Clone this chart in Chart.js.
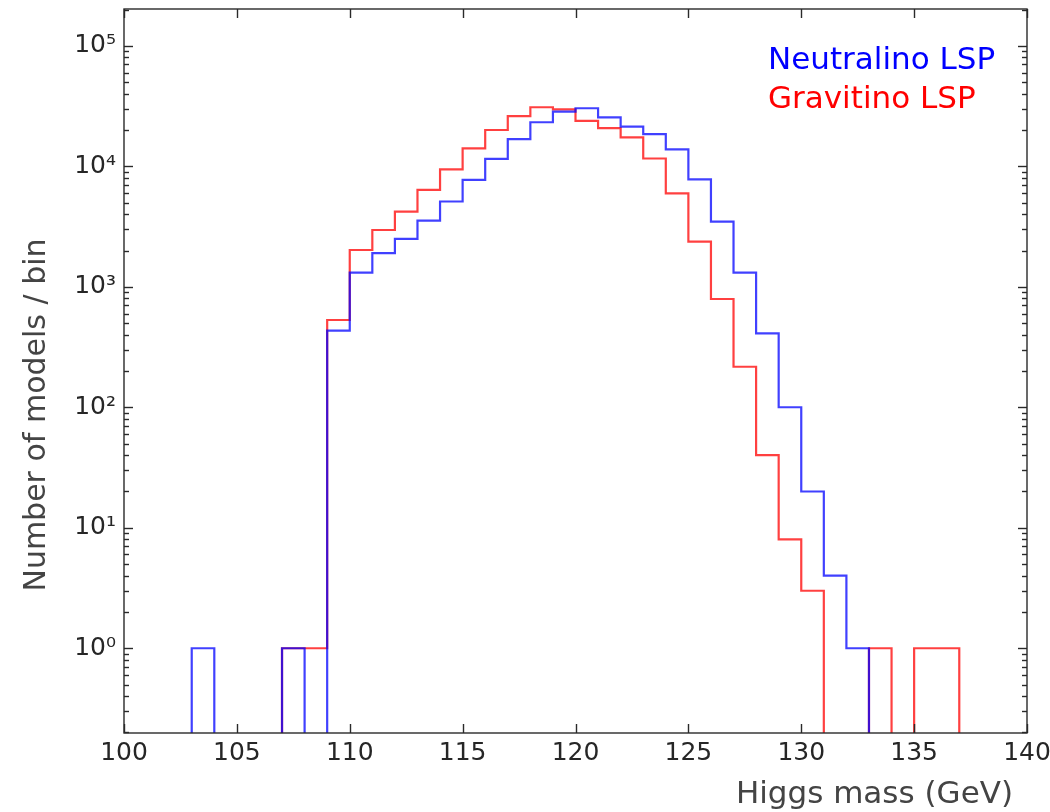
<!DOCTYPE html>
<html>
<head>
<meta charset="utf-8">
<script src="https://cdn.jsdelivr.net/npm/chart.js@4.4.1/dist/chart.umd.min.js"></script>
<style>
  html, body { margin: 0; padding: 0; background: #fff; }
  #wrap { width: 1050px; height: 812px; }
</style>
</head>
<body>
<div id="wrap"><canvas id="chart" width="1050" height="812"></canvas></div>
<script>
// bin edges in GeV (1 GeV bins, 100..140)
const binEdges = [100, 101, 102, 103, 104, 105, 106, 107, 108, 109,
                  110, 111, 112, 113, 114, 115, 116, 117, 118, 119,
                  120, 121, 122, 123, 124, 125, 126, 127, 128, 129,
                  130, 131, 132, 133, 134, 135, 136, 137, 138, 139, 140];

// models per bin, one value per bin
const neutralinoCounts = [0, 0, 0, 1, 0, 0, 0, 1, 0, 432,
                          1310, 1900, 2500, 3540, 5100, 7700, 11500, 16800, 23200, 28400,
                          30300, 25500, 21300, 18500, 13800, 7800, 3470, 1310, 411, 100,
                          20, 4, 1, 0, 0, 0, 0, 0, 0, 0];
const gravitinoCounts = [0, 0, 0, 0, 0, 0, 0, 1, 1, 530,
                         2020, 2960, 4200, 6360, 9440, 14100, 20000, 26100, 30900, 29700,
                         23800, 20700, 17400, 11600, 5970, 2370, 792, 217, 40, 8,
                         3, 0, 0, 1, 0, 1, 1, 0, 0, 0];

const seriesNames = ["Neutralino LSP", "Gravitino LSP"];
const xTickValues = [100, 105, 110, 115, 120, 125, 130, 135, 140];
const yTickValues = [1, 10, 100, 1000, 10000, 100000];
const yTickLabels = ["10⁰", "10¹", "10²", "10³", "10⁴", "10⁵"];
const xTitle = "Higgs mass (GeV)";
const yTitle = "Number of models / bin";

const FONT = "'DejaVu Sans', sans-serif";

// step outline: each bin's count sits at its left edge, last edge closes it.
// empty bins go below the axis so the line drops out of view like matplotlib
function stepPoints(counts) {
    const pts = counts.map((c, i) => ({ x: binEdges[i], y: c > 0 ? c : 1e-3 }));
    pts.push({ x: binEdges[binEdges.length - 1], y: 1e-3 });
    return pts;
}

// frame, inward ticks, axis titles and the text legend
const decorations = {
    id: "decorations",
    afterDraw(chart) {
        const { ctx, chartArea: a, scales: { x, y } } = chart;
        ctx.save();
        ctx.strokeStyle = "#2a2a2a";
        ctx.lineWidth = 1.4;
        const seg = (x1, y1, x2, y2) => {
            ctx.beginPath(); ctx.moveTo(x1, y1); ctx.lineTo(x2, y2); ctx.stroke();
        };
        y.ticks.forEach(t => {
            const py = Math.round(y.getPixelForValue(t.value)) + 0.5;
            const len = yTickValues.includes(t.value) ? 9 : 5;
            seg(a.left, py, a.left + len, py);
            seg(a.right, py, a.right - len, py);
        });
        x.ticks.forEach(t => {
            const px = Math.round(x.getPixelForValue(t.value)) + 0.5;
            seg(px, a.bottom, px, a.bottom - 9);
            seg(px, a.top, px, a.top + 9);
        });
        ctx.strokeRect(a.left, a.top, a.right - a.left, a.bottom - a.top);

        ctx.fillStyle = "#444";
        ctx.font = "31px " + FONT;
        ctx.textAlign = "right";
        ctx.textBaseline = "alphabetic";
        ctx.fillText(xTitle, 1013, 803);

        ctx.save();
        ctx.font = "30px " + FONT;
        ctx.translate(45, 415);
        ctx.rotate(-Math.PI / 2);
        ctx.textAlign = "center";
        ctx.fillText(yTitle, 0, 0);
        ctx.restore();

        ctx.textAlign = "left";
        ctx.fillStyle = "#0000ff";
        ctx.fillText(seriesNames[0], 768, 69);
        ctx.fillStyle = "#ff0000";
        ctx.fillText(seriesNames[1], 768, 108);
        ctx.restore();
    }
};

new Chart(document.getElementById("chart"), {
    type: "line",
    data: {
        datasets: [
            {
                label: seriesNames[0],
                data: stepPoints(neutralinoCounts),
                borderColor: "rgba(0, 0, 255, 0.75)",
                borderWidth: 2.2,
                stepped: "before",
                pointRadius: 0,
                fill: false,
                clip: 0
            },
            {
                label: seriesNames[1],
                data: stepPoints(gravitinoCounts),
                borderColor: "rgba(255, 0, 0, 0.75)",
                borderWidth: 2.2,
                stepped: "before",
                pointRadius: 0,
                fill: false,
                clip: 0
            }
        ]
    },
    options: {
        responsive: false,
        animation: false,
        layout: { padding: { left: 0, top: 9, right: 23, bottom: 0 } },
        plugins: { legend: { display: false }, tooltip: { enabled: false } },
        scales: {
            x: {
                type: "linear",
                min: 100,
                max: 140,
                grid: { display: false, drawTicks: false },
                border: { display: false },
                afterBuildTicks: s => { s.ticks = xTickValues.map(v => ({ value: v })); },
                afterFit: s => { s.height = 79; s.paddingLeft = 0; s.paddingRight = 0; },
                ticks: {
                    autoSkip: false,
                    maxRotation: 0,
                    padding: 5,
                    color: "#262626",
                    font: { family: FONT, size: 25 },
                    callback: v => String(v)
                }
            },
            y: {
                type: "logarithmic",
                min: 0.198,
                max: 2.02e5,
                grid: { display: false, drawTicks: false },
                border: { display: false },
                afterBuildTicks: s => {
                    const ticks = [];
                    for (let e = -1; e <= 5; e++) {
                        for (let m = 1; m <= 9; m++) {
                            const v = m * Math.pow(10, e);
                            if (v >= s.min && v <= s.max) ticks.push({ value: v });
                        }
                    }
                    s.ticks = ticks;
                },
                afterFit: s => { s.width = 124; s.paddingTop = 0; s.paddingBottom = 0; },
                ticks: {
                    autoSkip: false,
                    padding: 8,
                    color: "#262626",
                    font: { family: FONT, size: 25 },
                    callback: v => {
                        const i = yTickValues.indexOf(v);
                        return i >= 0 ? yTickLabels[i] : "";
                    }
                }
            }
        }
    },
    plugins: [decorations]
});
</script>
</body>
</html>
